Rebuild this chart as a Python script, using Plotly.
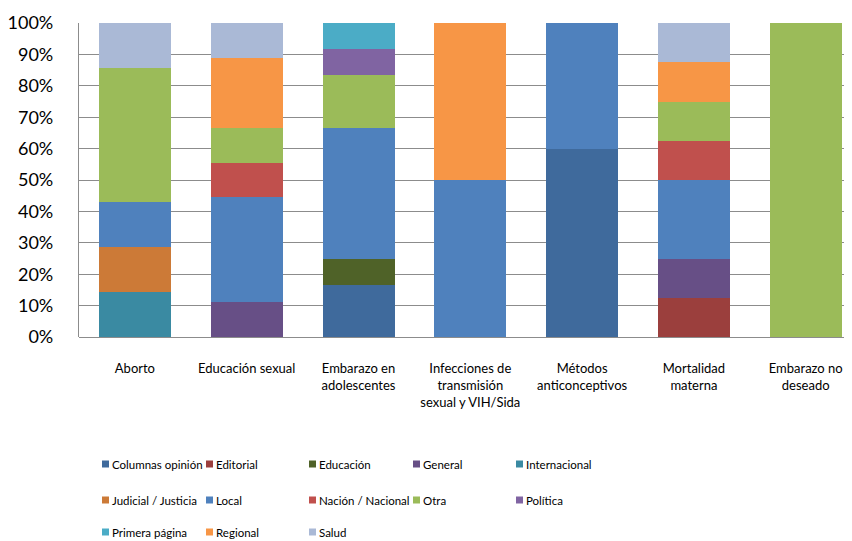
import plotly.graph_objects as go

categories = ["Aborto", "Educación sexual", "Embarazo en<br>adolescentes",
              "Infecciones de<br>transmisión<br>sexual y VIH/Sida",
              "Métodos<br>anticonceptivos", "Mortalidad<br>materna",
              "Embarazo no<br>deseado"]

series_names = ["Columnas opinión", "Editorial", "Educación", "General", "Internacional",
                "Judicial / Justicia", "Local", "Nación / Nacional", "Otra", "Política",
                "Primera página", "Regional", "Salud"]

columnas_opinion = [0, 0, 16.67, 0, 60, 0, 0]
editorial = [0, 0, 0, 0, 0, 12.5, 0]
educacion = [0, 0, 8.33, 0, 0, 0, 0]
general = [0, 11.11, 0, 0, 0, 12.5, 0]
internacional = [14.29, 0, 0, 0, 0, 0, 0]
judicial = [14.29, 0, 0, 0, 0, 0, 0]
local = [14.29, 33.33, 41.67, 50, 40, 25, 0]
nacion = [0, 11.11, 0, 0, 0, 12.5, 0]
otra = [42.86, 11.11, 16.67, 0, 0, 12.5, 100]
politica = [0, 0, 8.33, 0, 0, 0, 0]
primera_pagina = [0, 0, 8.33, 0, 0, 0, 0]
regional = [0, 22.22, 0, 50, 0, 12.5, 0]
salud = [14.29, 11.11, 0, 0, 0, 12.5, 0]

values = [columnas_opinion, editorial, educacion, general, internacional, judicial,
          local, nacion, otra, politica, primera_pagina, regional, salud]

colors = ["#3F6A9C", "#9B3F3D", "#4F6228", "#674F86", "#3A8AA2", "#CC7A37", "#4F81BD",
          "#C0504D", "#9BBB59", "#8064A2", "#4BACC6", "#F79646", "#AAB9D6"]

FONT = "Lato, 'Open Sans', sans-serif"

# page body adds an 8px offset; figure coordinates = screen coordinates - 8
OFF = 8
W, H = 852 - OFF, 541 - OFF
ML, MR, MT, MB = 79 - OFF, 0, 23 - OFF, 541 - 337
PW, PH = W - ML - MR, H - MT - MB

fig = go.Figure()
for name, vals, col in zip(series_names, values, colors):
    fig.add_trace(go.Bar(
        x=categories, y=vals, name=name, marker=dict(color=col, line=dict(width=0)),
        showlegend=False,
    ))

# Custom legend (5 columns, 3 rows) built from series names / colours
col_x = [102, 206, 309, 413, 516]
row_y = [464, 500, 532]
sq = 7
shapes = []
annotations = []
for i, (name, col) in enumerate(zip(series_names, colors)):
    px = col_x[i % 5] - OFF
    py = row_y[i // 5] - OFF
    shapes.append(dict(type="rect", xref="paper", yref="paper",
                       x0=(px - ML) / PW, x1=(px + sq - ML) / PW,
                       y0=(H - MB - (py + sq / 2)) / PH, y1=(H - MB - (py - sq / 2)) / PH,
                       fillcolor=col, line=dict(width=0)))
    annotations.append(dict(text=name, xref="paper", yref="paper",
                            x=(px + sq + 2 - ML) / PW, y=(H - MB - py) / PH,
                            xanchor="left", yanchor="middle", showarrow=False,
                            borderpad=0,
                            font=dict(family=FONT, size=11.5, color="#000")))

fig.update_layout(
    barmode="stack", barnorm="percent", bargap=0.356,
    width=W, height=H,
    margin=dict(l=ML, r=MR, t=MT, b=MB, autoexpand=False),
    plot_bgcolor="white", paper_bgcolor="white",
    font=dict(family=FONT, color="#000"),
    showlegend=False,
    xaxis=dict(range=[-0.5, 6.414], showgrid=False, showline=False, automargin=False,
               tickfont=dict(family=FONT, size=13, color="#000"),
               ticklabelstandoff=22, tickangle=0),
    yaxis=dict(range=[0, 100], tickvals=list(range(0, 101, 10)),
               ticktext=[f"{v}%" for v in range(0, 101, 10)], automargin=False,
               showgrid=True, gridcolor="#8C8C8C", gridwidth=1.3,
               showline=True, linecolor="#8C8C8C", linewidth=1.3,
               zeroline=True, zerolinecolor="#8C8C8C", zerolinewidth=1.3,
               tickfont=dict(family=FONT, size=18, color="#000"),
               ticks="", ticklabelstandoff=21),
    shapes=shapes,
    annotations=annotations,
)

fig.write_html("out.html")
